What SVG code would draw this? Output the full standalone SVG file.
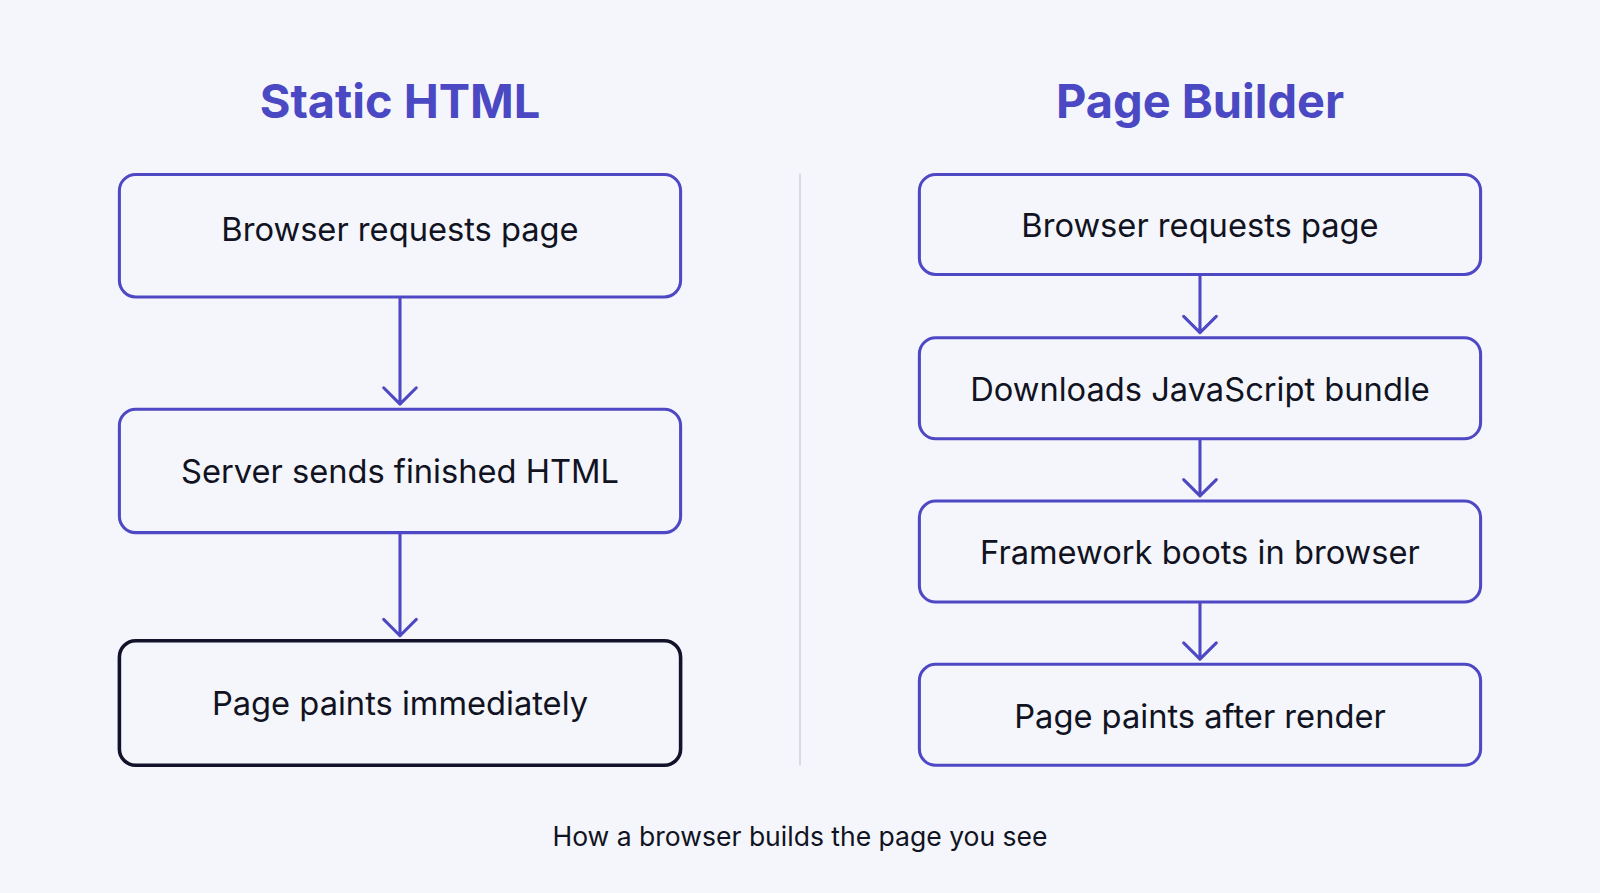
<svg xmlns="http://www.w3.org/2000/svg" width="1600" height="893" viewBox="0 0 1600 893">
<style>
.t{font-family:Inter,"Noto Sans",sans-serif;font-weight:700;font-size:46px;fill:#4a48c2;text-anchor:middle}
.b{fill:none;stroke:#4f48c4;stroke-width:3}
.d{fill:none;stroke:#12122a;stroke-width:3.5}
.l{font-family:Inter,"Noto Sans",sans-serif;font-size:32px;fill:#111322;text-anchor:middle}
.c{fill:none;stroke:#4f48c4;stroke-width:3;stroke-linecap:round;stroke-linejoin:round}
</style>
<rect width="1600" height="893" fill="#f4f6fb"/>
<g transform="scale(1.0204)">
<text class="t" x="392" y="116">Static HTML</text>
<text class="t" x="1176" y="116">Page Builder</text>
<line x1="784" y1="170" x2="784" y2="750" stroke="#d8dbe6" stroke-width="2"/>
<g id="connectors">
<path class="c" d="M392 292V396M376 380L392 396L408 380"/>
<path class="c" d="M392 523V623M376 607L392 623L408 607"/>
<path class="c" d="M1176 270V326M1160 310L1176 326L1192 310"/>
<path class="c" d="M1176 431V486M1160 470L1176 486L1192 470"/>
<path class="c" d="M1176 591V646M1160 630L1176 646L1192 630"/>
</g>
<g id="n1"><rect class="b" x="117" y="171" width="550" height="120" rx="16"/><text class="l" x="392" y="236">Browser requests page</text></g>
<g id="n2"><rect class="b" x="117" y="401" width="550" height="121" rx="16"/><text class="l" x="392" y="473">Server sends finished HTML</text></g>
<g id="n3"><rect class="d" x="117" y="628" width="550" height="122" rx="16"/><text class="l" x="392" y="701">Page paints immediately</text></g>
<g id="r1"><rect class="b" x="901" y="171" width="550" height="98" rx="16"/><text class="l" x="1176" y="232">Browser requests page</text></g>
<g id="r2"><rect class="b" x="901" y="331" width="550" height="99" rx="16"/><text class="l" x="1176" y="393">Downloads JavaScript bundle</text></g>
<g id="r3"><rect class="b" x="901" y="491" width="550" height="99" rx="16"/><text class="l" x="1176" y="553">Framework boots in browser</text></g>
<g id="r4"><rect class="b" x="901" y="651" width="550" height="99" rx="16"/><text class="l" x="1176" y="713">Page paints after render</text></g>
<text x="784" y="829" font-family="Inter,'Noto Sans',sans-serif" font-size="26" fill="#111322" text-anchor="middle">How a browser builds the page you see</text>
</g>
</svg>
